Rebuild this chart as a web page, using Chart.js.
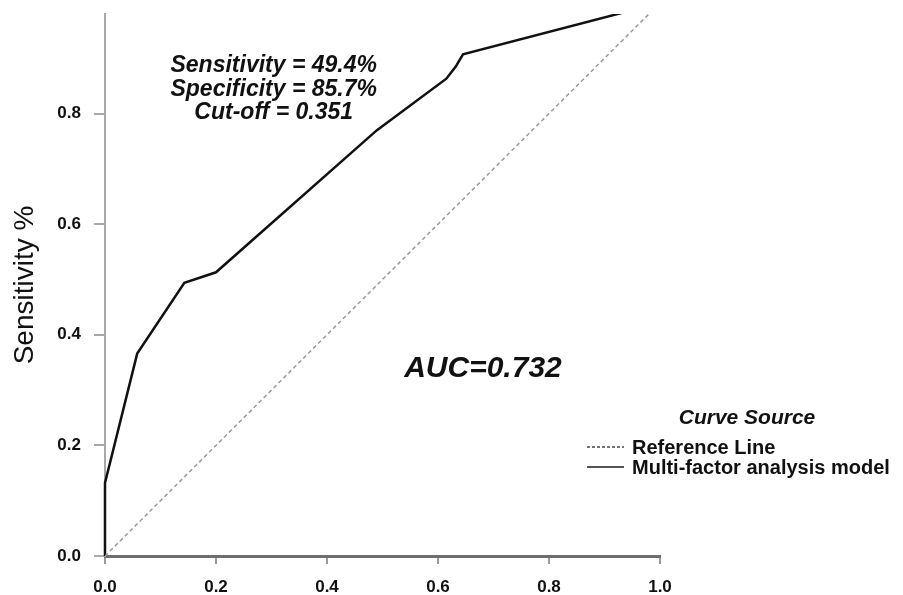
<!DOCTYPE html>
<html>
<head>
<meta charset="utf-8">
<script src="https://cdn.jsdelivr.net/npm/chart.js@4.4.1/dist/chart.umd.min.js"></script>
<style>
  html, body { margin: 0; padding: 0; background: #fff; }
  #wrap { width: 903px; height: 595px; }
</style>
</head>
<body>
<div id="wrap"><canvas id="roc"></canvas></div>
<script>
// ROC curve points (1 - specificity, sensitivity)
const fprValues = [0, 0, 0.058, 0.143, 0.2, 0.49, 0.615, 0.632, 0.645, 1.0];
const tprValues = [0, 0.132, 0.366, 0.494, 0.513, 0.77, 0.863, 0.885, 0.907, 1.0];
// diagonal reference line
const refX = [0, 1];
const refY = [0, 1];
const xTicks = [0, 0.2, 0.4, 0.6, 0.8, 1.0];
const yTicks = [0, 0.2, 0.4, 0.6, 0.8];
const statLines = ['Sensitivity = 49.4%', 'Specificity = 85.7%', 'Cut-off = 0.351'];
const aucLabel = 'AUC=0.732';
const legendTitle = 'Curve Source';
const seriesNames = ['Reference Line', 'Multi-factor analysis model'];

const FONT = '"Liberation Sans", Arial, sans-serif';

const toPoints = (xs, ys) => xs.map((x, i) => ({ x, y: ys[i] }));

// texts: cut-off stats, AUC, custom legend
const textPlugin = {
  id: 'rocText',
  afterDraw(chart) {
    const { ctx, chartArea, scales } = chart;
    const x = scales.x, y = scales.y;
    ctx.save();
    ctx.fillStyle = '#111';
    ctx.textAlign = 'center';
    ctx.textBaseline = 'middle';

    ctx.font = 'italic bold 23px ' + FONT;
    const sx = x.getPixelForValue(0.304);
    const sy = y.getPixelForValue(0.886);
    statLines.forEach((t, i) => ctx.fillText(t, sx, sy + i * 23.5));

    ctx.font = 'italic bold 30px ' + FONT;
    ctx.fillText(aucLabel, x.getPixelForValue(0.681), y.getPixelForValue(0.338));

    // legend
    const lx = chartArea.right;
    ctx.font = 'italic bold 21px ' + FONT;
    ctx.fillText(legendTitle, lx + 87, 418);

    ctx.textAlign = 'left';
    ctx.font = 'bold 20px ' + FONT;
    const rows = [447, 467];
    ctx.lineWidth = 1.5;
    ctx.strokeStyle = '#444';
    ctx.setLineDash([3, 2]);
    ctx.beginPath(); ctx.moveTo(lx - 73, rows[0]); ctx.lineTo(lx - 36, rows[0]); ctx.stroke();
    ctx.setLineDash([]);
    ctx.lineWidth = 2;
    ctx.strokeStyle = '#555';
    ctx.beginPath(); ctx.moveTo(lx - 73, rows[1]); ctx.lineTo(lx - 36, rows[1]); ctx.stroke();
    seriesNames.forEach((n, i) => ctx.fillText(n, lx - 28, rows[i] + 1));
    ctx.restore();
  }
};

new Chart(document.getElementById('roc'), {
  type: 'scatter',
  data: {
    datasets: [
      {
        label: seriesNames[0],
        data: toPoints(refX, refY),
        showLine: true,
        borderColor: '#9a9a9a',
        borderWidth: 1.5,
        borderDash: [4, 3],
        pointRadius: 0,
        clip: 0,
      },
      {
        label: seriesNames[1],
        data: toPoints(fprValues, tprValues),
        showLine: true,
        borderColor: '#111',
        borderWidth: 2.5,
        pointRadius: 0,
        clip: { left: 3, top: 0, right: 0, bottom: 3 },
      },
    ],
  },
  options: {
    responsive: true,
    maintainAspectRatio: false,
    animation: false,
    layout: { padding: { top: 14, right: 243, left: 0, bottom: 0 } },
    plugins: { legend: { display: false }, tooltip: { enabled: false } },
    scales: {
      x: {
        type: 'linear',
        min: 0,
        max: 1,
        afterBuildTicks: s => { s.ticks = xTicks.map(v => ({ value: v })); },
        afterFit: s => { s.height = 39; s.paddingLeft = 0; s.paddingRight = 0; },
        border: { display: true, color: '#6e6e6e', width: 3 },
        grid: { drawOnChartArea: false, drawTicks: true, tickLength: 8, color: '#9a9a9a', lineWidth: 2 },
        ticks: {
          padding: 13,
          color: '#111',
          font: { family: FONT, size: 17, weight: 'bold' },
          callback: v => Number(v).toFixed(1),
        },
      },
      y: {
        type: 'linear',
        min: 0,
        max: 0.98,
        afterBuildTicks: s => { s.ticks = yTicks.map(v => ({ value: v })); },
        afterFit: s => { s.width = 105; s.paddingTop = 0; s.paddingBottom = 0; },
        border: { display: true, color: '#a8a8a8', width: 2 },
        grid: { drawOnChartArea: false, drawTicks: true, tickLength: 11, color: '#a8a8a8', lineWidth: 2 },
        title: {
          display: true,
          text: 'Sensitivity %',
          color: '#111',
          font: { family: FONT, size: 28, weight: 'normal' },
          padding: { top: 8, bottom: 0 },
        },
        ticks: {
          padding: 13,
          color: '#111',
          font: { family: FONT, size: 17, weight: 'bold' },
          callback: v => Number(v).toFixed(1),
        },
      },
    },
  },
  plugins: [textPlugin],
});
</script>
</body>
</html>
